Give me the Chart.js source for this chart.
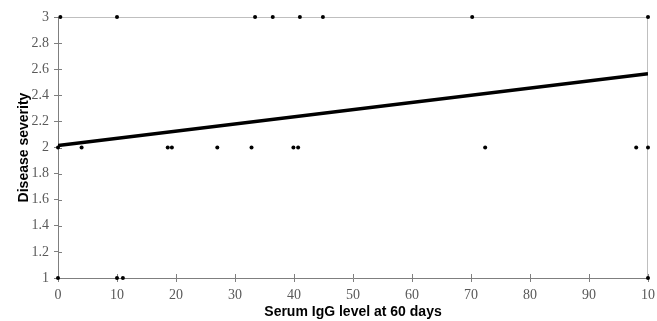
<!DOCTYPE html>
<html>
<head>
<meta charset="utf-8">
<script src="https://cdn.jsdelivr.net/npm/chart.js@4"></script>
<style>
  html, body { margin: 0; padding: 0; background: #fff; }
  canvas { display: block; }
</style>
</head>
<body>
<canvas id="chart" width="657" height="321"></canvas>
<script>
// points, grouped by severity
const severity3X = [0.4, 10, 33.4, 36.4, 41, 44.9, 70.2, 100];
const severity2X = [0, 4, 18.6, 19.3, 27, 32.8, 39.9, 40.7, 72.4, 98, 100];
const severity1X = [0, 10, 11, 100];
const trendX = [0, 100];
const trendY = [2.015, 2.565];
const xTickLabels = ["0", "10", "20", "30", "40", "50", "60", "70", "80", "90", "10"];
const yTickLabels = ["1", "1.2", "1.4", "1.6", "1.8", "2", "2.2", "2.4", "2.6", "2.8", "3"];

const points = [
  ...severity3X.map((x) => ({ x, y: 3 })),
  ...severity2X.map((x) => ({ x, y: 2 })),
  ...severity1X.map((x) => ({ x, y: 1 })),
];
const trend = trendX.map((x, i) => ({ x, y: trendY[i] }));

const tickFont = { family: "'Liberation Serif', 'DejaVu Serif', serif", size: 14 };
const titleFont = { family: "'Liberation Sans', Arial, sans-serif", size: 14, weight: "bold" };

// Excel style: ticks cross the axis, light frame on top and right
const frame = {
  id: "frame",
  beforeDatasetsDraw(chart) {
    const { ctx, chartArea: a, scales } = chart;
    ctx.save();
    ctx.strokeStyle = "#bfbfbf";
    ctx.lineWidth = 1;
    ctx.beginPath();
    ctx.moveTo(a.left, a.top + 0.5);
    ctx.lineTo(a.right, a.top + 0.5);
    ctx.moveTo(a.right - 0.5, a.top);
    ctx.lineTo(a.right - 0.5, a.bottom);
    ctx.stroke();

    ctx.strokeStyle = "#7f7f7f";
    ctx.beginPath();
    scales.x.ticks.forEach((t) => {
      const px = Math.round(scales.x.getPixelForValue(t.value)) + 0.5;
      ctx.moveTo(px, a.bottom);
      ctx.lineTo(px, a.bottom - 4);
    });
    scales.y.ticks.forEach((t) => {
      const py = Math.round(scales.y.getPixelForValue(t.value)) + 0.5;
      ctx.moveTo(a.left, py);
      ctx.lineTo(a.left + 4, py);
    });
    ctx.stroke();
    ctx.restore();
  },
};

new Chart(document.getElementById("chart"), {
  type: "scatter",
  data: {
    datasets: [
      {
        label: "Severity",
        data: points,
        backgroundColor: "#000",
        borderColor: "#000",
        pointRadius: 2,
        pointBorderWidth: 0,
        clip: false,
      },
      {
        label: "Trend",
        data: trend,
        showLine: true,
        borderColor: "#000",
        borderWidth: 3.5,
        pointRadius: 0,
      },
    ],
  },
  options: {
    responsive: false,
    animation: false,
    layout: { padding: { left: 0, right: 9, top: 17, bottom: 0 } },
    plugins: {
      legend: { display: false },
      tooltip: { enabled: false },
    },
    scales: {
      x: {
        type: "linear",
        min: 0,
        max: 100,
        ticks: {
          stepSize: 10,
          color: "#595959",
          font: tickFont,
          padding: 5,
          maxRotation: 0,
          callback: (v, i) => xTickLabels[i],
        },
        grid: { drawOnChartArea: false, tickLength: 4, color: "#7f7f7f" },
        border: { color: "#7f7f7f" },
        title: {
          display: true,
          text: "Serum IgG level at 60 days",
          color: "#000",
          font: titleFont,
          padding: { top: 5, bottom: 0 },
        },
        afterFit(s) {
          s.height = 43;
          s.paddingLeft = 0;
          s.paddingRight = 0;
        },
      },
      y: {
        min: 1,
        max: 3,
        ticks: {
          stepSize: 0.2,
          color: "#595959",
          font: tickFont,
          padding: 5,
          callback: (v, i) => yTickLabels[i],
        },
        grid: { drawOnChartArea: false, tickLength: 4, color: "#7f7f7f" },
        border: { color: "#7f7f7f" },
        title: {
          display: true,
          text: "Disease severity",
          color: "#000",
          font: titleFont,
          padding: { top: 16, bottom: 4 },
        },
        afterFit(s) {
          s.width = 58;
          s.paddingTop = 0;
          s.paddingBottom = 0;
        },
      },
    },
  },
  plugins: [frame],
});
</script>
</body>
</html>
